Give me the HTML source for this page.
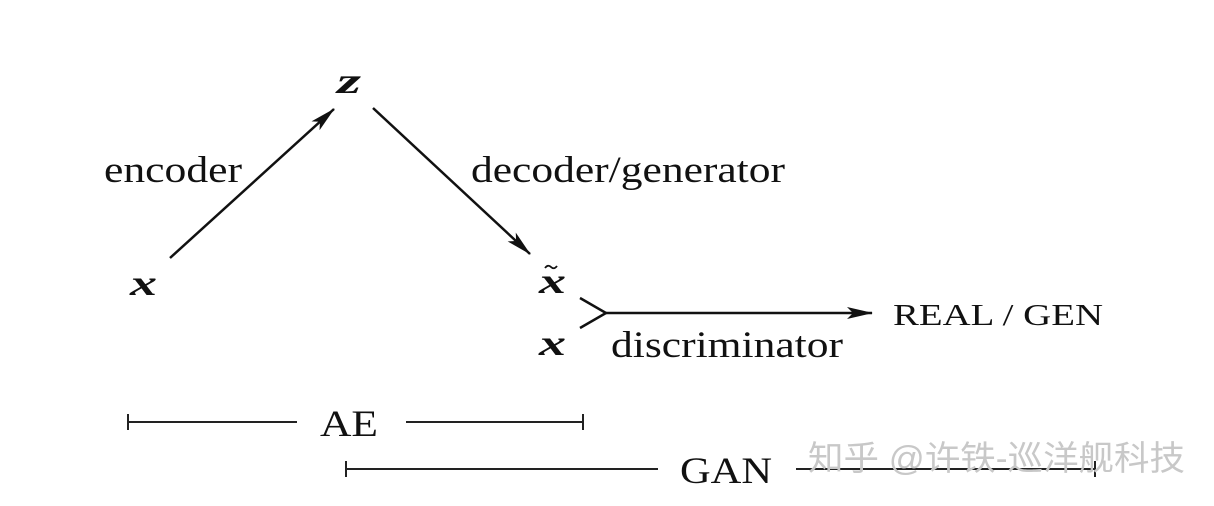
<!DOCTYPE html>
<html><head><meta charset="utf-8"><style>
html,body{margin:0;padding:0;background:#fff;}
svg{display:block;}
.t{font-family:"Liberation Serif",serif;fill:#111;}
.m{font-family:"Liberation Serif",serif;font-style:italic;font-weight:bold;fill:#111;}
</style></head><body>
<svg width="1214" height="506" viewBox="0 0 1214 506">
<defs><marker id="b" markerWidth="26" markerHeight="12" refX="25" refY="6" orient="auto" markerUnits="userSpaceOnUse"><path d="M0,0 L26,6 L0,12 L6,6 Z" fill="#111"/></marker></defs>
<g stroke="#111" stroke-width="2.5" fill="none">
<line x1="170" y1="258" x2="334" y2="109" marker-end="url(#b)"/>
<line x1="373" y1="108" x2="530" y2="254" marker-end="url(#b)"/>
<polyline points="580,298 606,313 580,328"/>
<line x1="606" y1="313" x2="872" y2="313" marker-end="url(#b)"/>
<path d="M545,268 q3,-4 6,-1 t6,-1" stroke-width="1.8"/>
</g>
<g stroke="#222" stroke-width="2" fill="none">
<line x1="128" y1="422" x2="297" y2="422"/><line x1="406" y1="422" x2="583" y2="422"/>
<line x1="128" y1="414" x2="128" y2="430"/><line x1="583" y1="414" x2="583" y2="430"/>
<line x1="346" y1="469" x2="658" y2="469"/><line x1="796" y1="469" x2="1095" y2="469"/>
<line x1="346" y1="461" x2="346" y2="477"/><line x1="1095" y1="461" x2="1095" y2="477"/>
</g>
<text class="m" x="337" y="93" font-size="36" textLength="24" lengthAdjust="spacingAndGlyphs">z</text>
<text class="t" x="104" y="182" font-size="37" textLength="138" lengthAdjust="spacingAndGlyphs">encoder</text>
<text class="t" x="471" y="182" font-size="37" textLength="314" lengthAdjust="spacingAndGlyphs">decoder/generator</text>
<text class="m" x="130" y="295" font-size="36" textLength="27" lengthAdjust="spacingAndGlyphs">x</text>
<text class="m" x="539" y="293" font-size="36" textLength="27" lengthAdjust="spacingAndGlyphs">x</text>
<text class="m" x="539" y="355" font-size="36" textLength="27" lengthAdjust="spacingAndGlyphs">x</text>
<text class="t" x="611" y="357" font-size="37" textLength="232" lengthAdjust="spacingAndGlyphs">discriminator</text>
<text class="t" x="893" y="325" font-size="31" textLength="210" lengthAdjust="spacingAndGlyphs">REAL / GEN</text>
<text class="t" x="320" y="436" font-size="37" textLength="58" lengthAdjust="spacingAndGlyphs">AE</text>
<text class="t" x="680" y="483" font-size="37" textLength="92" lengthAdjust="spacingAndGlyphs">GAN</text>
<text x="808" y="470" font-size="34" fill="#c8c8c8" textLength="377" lengthAdjust="spacingAndGlyphs" font-family="'Liberation Sans','Noto Sans CJK SC',sans-serif">知乎 @许铁-巡洋舰科技</text>
</svg>
</body></html>
